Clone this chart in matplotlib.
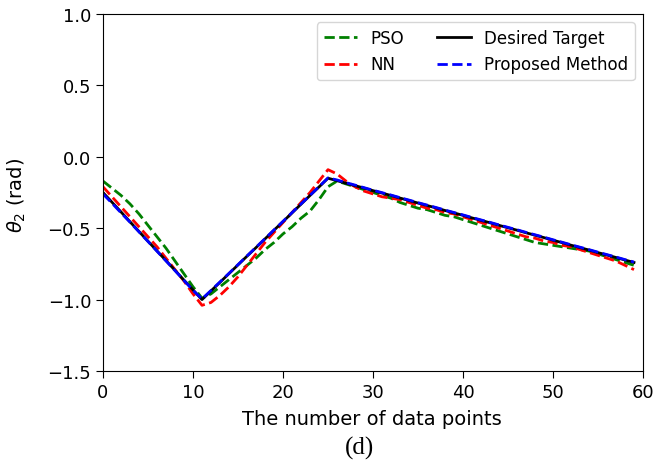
import matplotlib
matplotlib.use("Agg")
import matplotlib.pyplot as plt
import numpy as np

x = list(range(60))

target = [-0.25, -0.318, -0.386, -0.455, -0.523, -0.591, -0.659, -0.727, -0.795, -0.864, -0.932, -1.0,
          -0.939, -0.879, -0.818, -0.757, -0.696, -0.636, -0.575, -0.514, -0.454, -0.393, -0.332, -0.271, -0.211, -0.15,
          -0.167, -0.185, -0.202, -0.219, -0.237, -0.254, -0.271, -0.289, -0.306, -0.324, -0.341, -0.358, -0.376, -0.393,
          -0.410, -0.428, -0.445, -0.462, -0.480, -0.497, -0.514, -0.532, -0.549, -0.566, -0.584, -0.601, -0.619, -0.636,
          -0.653, -0.671, -0.688, -0.705, -0.723, -0.74]

proposed = [-0.26, -0.325, -0.392, -0.458, -0.526, -0.593, -0.661, -0.729, -0.797, -0.866, -0.935, -0.995,
            -0.936, -0.876, -0.816, -0.755, -0.694, -0.634, -0.573, -0.512, -0.452, -0.391, -0.330, -0.270, -0.209, -0.148,
            -0.162, -0.181, -0.198, -0.216, -0.234, -0.251, -0.268, -0.286, -0.303, -0.321, -0.338, -0.355, -0.373, -0.390,
            -0.407, -0.425, -0.442, -0.459, -0.477, -0.494, -0.511, -0.529, -0.546, -0.563, -0.581, -0.598, -0.616, -0.633,
            -0.650, -0.668, -0.685, -0.702, -0.720, -0.737]

pso = [-0.17, -0.22, -0.27, -0.33, -0.40, -0.48, -0.56, -0.64, -0.73, -0.82, -0.91, -0.99,
       -0.96, -0.91, -0.86, -0.81, -0.76, -0.71, -0.65, -0.60, -0.54, -0.49, -0.43, -0.38, -0.30, -0.21,
       -0.17, -0.19, -0.21, -0.23, -0.25, -0.27, -0.29, -0.32, -0.34, -0.36, -0.37, -0.39, -0.41, -0.42,
       -0.44, -0.46, -0.48, -0.50, -0.52, -0.54, -0.56, -0.58, -0.60, -0.61, -0.62, -0.63, -0.64, -0.65,
       -0.66, -0.68, -0.70, -0.72, -0.74, -0.76]

nn = [-0.21, -0.28, -0.35, -0.42, -0.49, -0.56, -0.63, -0.71, -0.79, -0.87, -0.96, -1.04,
      -1.02, -0.97, -0.91, -0.84, -0.76, -0.68, -0.60, -0.53, -0.46, -0.39, -0.32, -0.25, -0.17, -0.09,
      -0.12, -0.17, -0.21, -0.24, -0.26, -0.28, -0.29, -0.30, -0.32, -0.34, -0.36, -0.37, -0.39, -0.40,
      -0.42, -0.44, -0.46, -0.48, -0.50, -0.52, -0.54, -0.56, -0.57, -0.59, -0.60, -0.62, -0.63, -0.65,
      -0.67, -0.69, -0.71, -0.73, -0.76, -0.79]

fig = plt.figure(figsize=(6.56, 4.64), dpi=100)
ax = fig.add_axes([103/656, 1 - 372/464, (643-103)/656, (372-15)/464])

ax.plot(x, pso, '--', color='green', lw=2, label='PSO')
ax.plot(x, nn, '--', color='red', lw=2, label='NN')
ax.plot(x, target, '-', color='black', lw=2, label='Desired Target')
ax.plot(x, proposed, '--', color='blue', lw=2, label='Proposed Method')

ax.set_xlim(0, 60)
ax.set_ylim(-1.5, 1.0)
ax.set_xticks([0, 10, 20, 30, 40, 50, 60])
ax.set_yticks([-1.5, -1.0, -0.5, 0.0, 0.5, 1.0])
ax.tick_params(labelsize=13, length=5)
ax.set_xlabel('The number of data points', fontsize=14)
ax.set_ylabel(r'$\theta_2$ (rad)', fontsize=14)
ax.xaxis.set_label_coords((372 - 103) / 540, (372 - 420) / 357)
ax.xaxis.label.set_va('center')
ax.yaxis.set_label_coords((17 - 103) / 540, (372 - 195) / 357)
ax.yaxis.label.set_va('center')
ax.legend(loc='upper right', ncol=2, fontsize=12, handlelength=2.0, columnspacing=2.0)

fig.text(359/656, 1 - 448/464, '(d)', ha='center', va='center', fontsize=18, family='Liberation Serif')

fig.savefig('out.png', dpi=100)
